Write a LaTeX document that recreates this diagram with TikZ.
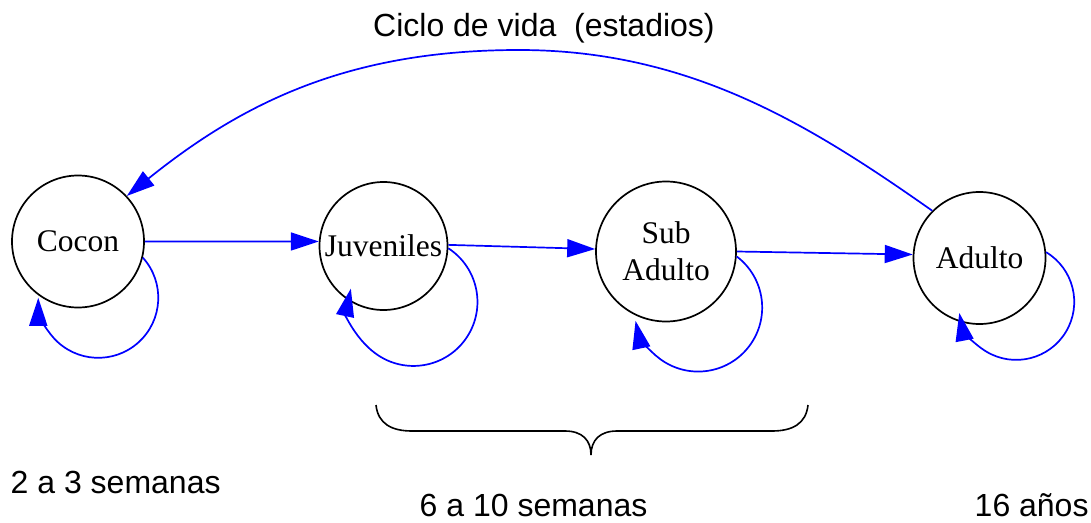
\documentclass[tikz,border=0pt]{standalone}
\usepackage{fontspec}
\setmainfont{Liberation Serif}
\newfontfamily\labelfont{Liberation Sans}
\usetikzlibrary{arrows.meta}
\definecolor{edgeblue}{RGB}{0,0,255}
\tikzset{
  state/.style={circle, draw=black, line width=1.7pt, inner sep=0pt, align=center,
    font=\fontsize{31.5}{37}\selectfont},
  edge/.style={draw=edgeblue, line width=1.7pt, -{Triangle[length=28pt,width=18pt]}},
  caption/.style={inner sep=0pt, anchor=base west, font=\labelfont\fontsize{32}{37}\selectfont},
  bracestroke/.style={draw=black, line width=1.6pt}
}
\begin{document}
\begin{tikzpicture}[x=1pt,y=1pt]
\useasboundingbox (0,0) rectangle (1091,-522);
% states
\node[state, minimum size=132pt] (cocon) at (78,-241.5) {Cocon};
\node[state, minimum size=128pt] (juv) at (383.5,-246) {Juveniles};
\node[state, minimum size=140pt] (sub) at (666,-251.5) {Sub\\Adulto};
\node[state, minimum size=132pt] (adulto) at (979.5,-258) {Adulto};
% forward transitions
\draw[edge] (cocon.east) -- (juv.176);
\draw[edge] (juv.1) -- (sub.178);
\draw[edge] (sub.0) -- (adulto.177);
% self loops
\draw[edge] (cocon.-14) arc[start angle=42, end angle=-180, radius=60pt];
\draw[edge] (juv.-2) arc[start angle=57, end angle=-192, radius=64pt];
\draw[edge] (sub.-4) arc[start angle=53, end angle=-168, radius=64pt];
\draw[edge] (adulto.5) arc[start angle=59, end angle=-169, radius=58pt];
% return arc
\coordinate (peak) at (519,-50);
\draw[edge] (adulto.135) .. controls (809,-124) and (689,-50) .. (peak)
  .. controls (349,-50) and (243,-102.5) .. (cocon.43);
% brace
\draw[bracestroke] (376,-405) .. controls (378,-424) and (392,-431) .. (412,-431)
  -- (565,-431) .. controls (582,-431) and (591,-440) .. (591,-455)
  .. controls (591,-440) and (600,-431) .. (617,-431)
  -- (772,-431) .. controls (792,-431) and (806,-424) .. (808,-405);
% captions
\node[caption] (title) at (373,-36.7) {Ciclo de vida~~(estadios)};
\node[caption] (t1) at (10.5,-493) {2 a 3 semanas};
\node[caption] (t2) at (419.5,-516.7) {6 a 10 semanas};
\node[caption] (t3) at (974.5,-516.7) {16 años};
\end{tikzpicture}
\end{document}
